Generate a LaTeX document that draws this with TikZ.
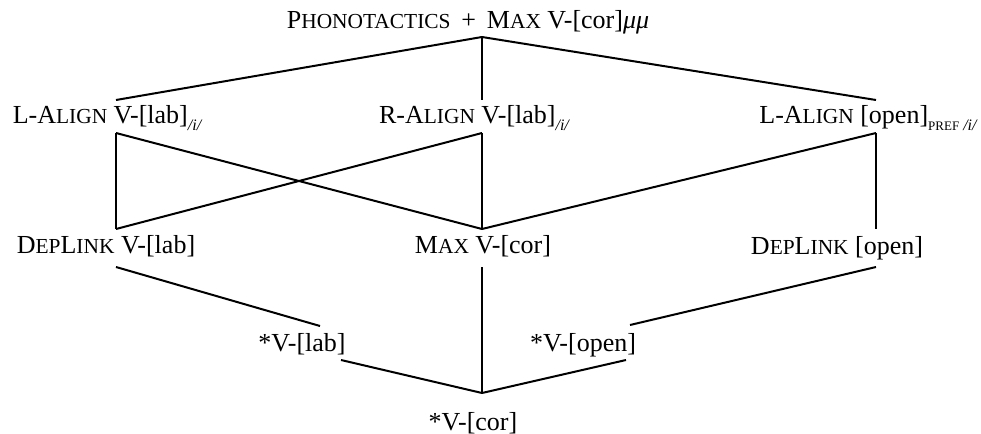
\documentclass[tikz,border=0pt]{standalone}
\usepackage{fontspec}
\setmainfont{Liberation Serif}
\newcommand\fsc[1]{{\fontsize{10.7pt}{12pt}\selectfont #1}}
\newcommand\subtx[1]{\raisebox{-0.3em}{\fontsize{8pt}{9pt}\selectfont #1}}
\begin{document}
\begin{tikzpicture}[x=0.5pt,y=-0.5pt,
  lbl/.style={inner sep=0pt, anchor=base, font=\fontsize{13pt}{15pt}\selectfont},
  conn/.style={line width=1pt}]
\useasboundingbox (0,0) rectangle (981,434);
% text nodes
\node[lbl] (top) at (468,28) {P\fsc{HONOTACTICS} \,+\, M\fsc{AX} V-[cor]\textit{μμ}};
\node[lbl] (la) at (107,123) {L-A\fsc{LIGN} V-[lab]\subtx{\itshape /i/}};
\node[lbl] (ra) at (474,123) {R-A\fsc{LIGN} V-[lab]\subtx{\itshape /i/}};
\node[lbl] (lo) at (868,123) {L-A\fsc{LIGN} [open]\subtx{{\fontsize{6.5pt}{8pt}\selectfont PREF} \itshape /i/}};
\node[lbl] (dl) at (106,253) {D\fsc{EP}L\fsc{INK} V-[lab]};
\node[lbl] (mx) at (483,253) {M\fsc{AX} V-[cor]};
\node[lbl] (do) at (837,254) {D\fsc{EP}L\fsc{INK} [open]};
\node[lbl] (sl) at (302,351) {*V-[lab]};
\node[lbl] (so) at (583,351) {*V-[open]};
\node[lbl] (sc) at (473,430) {*V-[cor]};
% attachment points
\coordinate (top-s) at (482,37);
\coordinate (la-n) at (116,100);
\coordinate (ra-n) at (482,100);
\coordinate (lo-n) at (876,100);
\coordinate (la-s) at (116,133);
\coordinate (ra-s) at (482,133);
\coordinate (lo-s) at (876,133);
\coordinate (dl-n) at (116,229);
\coordinate (mx-n) at (482,229);
\coordinate (do-n) at (876,229);
\coordinate (dl-s) at (116,267);
\coordinate (mx-s) at (482,267);
\coordinate (do-s) at (876,267);
\coordinate (sl-n) at (320,326);
\coordinate (so-n) at (630,325);
\coordinate (sl-s) at (341,360);
\coordinate (so-s) at (626,360);
\coordinate (sc-n) at (482,393);
% connectors
\draw[conn] (top-s) -- (la-n);
\draw[conn] (top-s) -- (ra-n);
\draw[conn] (top-s) -- (lo-n);
\draw[conn] (la-s) -- (dl-n);
\draw[conn] (la-s) -- (mx-n);
\draw[conn] (ra-s) -- (dl-n);
\draw[conn] (ra-s) -- (mx-n);
\draw[conn] (lo-s) -- (mx-n);
\draw[conn] (lo-s) -- (do-n);
\draw[conn] (dl-s) -- (sl-n);
\draw[conn] (do-s) -- (so-n);
\draw[conn] (mx-s) -- (sc-n);
\draw[conn] (sl-s) -- (sc-n);
\draw[conn] (so-s) -- (sc-n);
\end{tikzpicture}
\end{document}
